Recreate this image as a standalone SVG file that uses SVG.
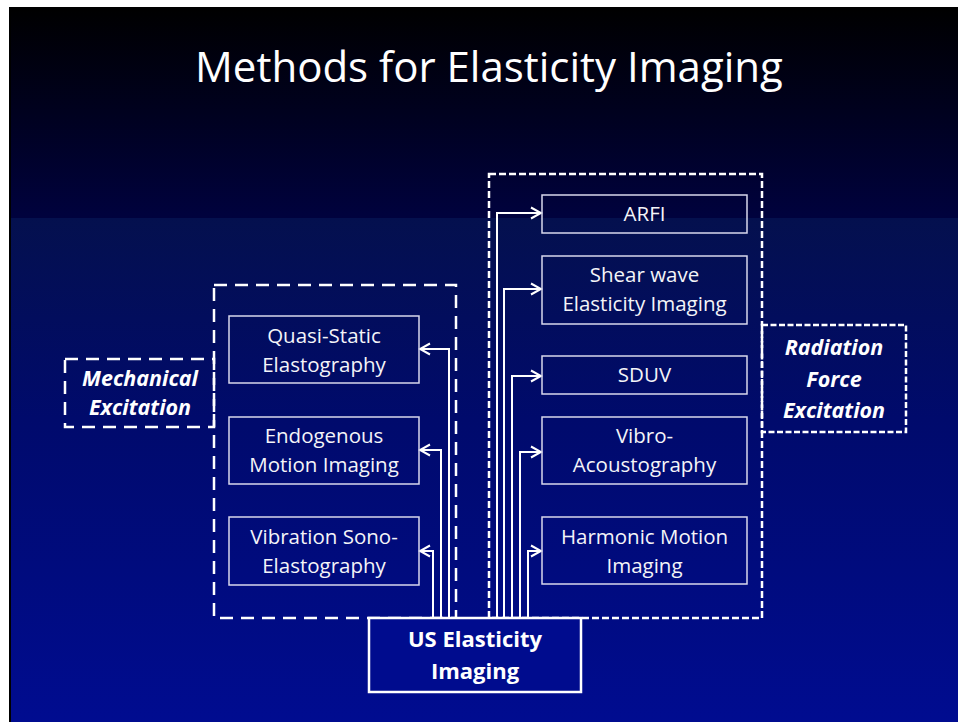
<svg xmlns="http://www.w3.org/2000/svg" width="958" height="722" viewBox="0 0 958 722">
  <defs>
    <linearGradient id="bgTop" x1="0" y1="0" x2="0" y2="1">
      <stop offset="0" stop-color="#000000"/>
      <stop offset="1" stop-color="#00023e"/>
    </linearGradient>
    <linearGradient id="bgBot" x1="0" y1="0" x2="0" y2="1">
      <stop offset="0" stop-color="#04104e"/>
      <stop offset="0.4" stop-color="#000a6c"/>
      <stop offset="1" stop-color="#000c90"/>
    </linearGradient>
    <marker id="arr" viewBox="-12 -8 14 16" refX="0" refY="0" markerWidth="14" markerHeight="16" markerUnits="userSpaceOnUse" orient="auto">
      <path d="M-10,-5.5 L0,0 L-10,5.5" fill="none" stroke="#ffffff" stroke-width="2"/>
    </marker>
  </defs>
  <style>
    .box { fill: none; stroke: #d8d8ec; stroke-width: 1.5; }
    .t { font-family: "Open Sans", "Liberation Sans", sans-serif; font-size: 20.5px; fill: #f4f4f8; text-anchor: middle; }
    .bi { font-family: "Open Sans", "Liberation Sans", sans-serif; font-size: 21.5px; font-weight: bold; font-style: italic; fill: #ffffff; text-anchor: middle; }
    .conn { fill: none; stroke: #ffffff; stroke-width: 2; marker-end: url(#arr); }
    .longdash { fill: none; stroke: #ffffff; stroke-width: 2.5; stroke-dasharray: 13 8; }
    .shortdash { fill: none; stroke: #ffffff; stroke-width: 2.5; stroke-dasharray: 7 3; }
    .dotdash { fill: none; stroke: #ffffff; stroke-width: 2.5; stroke-dasharray: 6 2.5; }
  </style>

  <!-- background -->
  <rect x="0" y="0" width="958" height="722" fill="#ffffff"/>
  <rect x="9" y="7" width="949" height="715" fill="#000000"/>
  <rect x="11" y="8" width="947" height="210" fill="url(#bgTop)"/>
  <rect x="11" y="218" width="947" height="504" fill="url(#bgBot)"/>

  <!-- title -->
  <text x="489" y="82" font-family="'Open Sans', 'Liberation Sans', sans-serif" font-size="42" fill="#ffffff" text-anchor="middle">Methods for Elasticity Imaging</text>

  <!-- groups -->
  <g id="mechanical-group">
    <rect class="longdash" x="214" y="285" width="242" height="333"/>
  </g>
  <g id="radiation-group">
    <rect class="shortdash" x="489" y="174" width="273" height="444"/>
  </g>
  <g id="mechanical-excitation">
    <rect class="longdash" x="65" y="359" width="149" height="68"/>
    <text class="bi" x="140" y="386">Mechanical</text>
    <text class="bi" x="140" y="415">Excitation</text>
  </g>
  <g id="radiation-force-excitation">
    <rect class="dotdash" x="762" y="325" width="144" height="107"/>
    <text class="bi" x="834" y="355">Radiation</text>
    <text class="bi" x="834" y="387">Force</text>
    <text class="bi" x="834" y="418">Excitation</text>
  </g>

  <!-- connectors -->
  <g id="connectors">
    <path class="conn" d="M449,618 V349 H420"/>
    <path class="conn" d="M441,618 V450 H420"/>
    <path class="conn" d="M433,618 V551 H420"/>
    <path class="conn" d="M497,618 V213 H541"/>
    <path class="conn" d="M504,618 V289 H541"/>
    <path class="conn" d="M512,618 V376 H541"/>
    <path class="conn" d="M520,618 V452 H541"/>
    <path class="conn" d="M528,618 V551 H541"/>
  </g>

  <!-- left column -->
  <g id="quasi-static">
    <rect class="box" x="229" y="316" width="190" height="67"/>
    <text class="t" x="324" y="343">Quasi-Static</text>
    <text class="t" x="324" y="372">Elastography</text>
  </g>
  <g id="endogenous">
    <rect class="box" x="229" y="417" width="190" height="67"/>
    <text class="t" x="324" y="443">Endogenous</text>
    <text class="t" x="324" y="472">Motion Imaging</text>
  </g>
  <g id="vibration-sono">
    <rect class="box" x="229" y="517" width="190" height="68"/>
    <text class="t" x="324" y="544">Vibration Sono-</text>
    <text class="t" x="324" y="573">Elastography</text>
  </g>

  <!-- right column -->
  <g id="arfi">
    <rect class="box" x="542" y="195" width="205" height="38"/>
    <text class="t" x="644.5" y="221">ARFI</text>
  </g>
  <g id="shear-wave">
    <rect class="box" x="542" y="256" width="205" height="68"/>
    <text class="t" x="644.5" y="282">Shear wave</text>
    <text class="t" x="644.5" y="311">Elasticity Imaging</text>
  </g>
  <g id="sduv">
    <rect class="box" x="542" y="356" width="205" height="38"/>
    <text class="t" x="644.5" y="382">SDUV</text>
  </g>
  <g id="vibro">
    <rect class="box" x="542" y="417" width="205" height="67"/>
    <text class="t" x="644.5" y="443">Vibro-</text>
    <text class="t" x="644.5" y="472">Acoustography</text>
  </g>
  <g id="harmonic">
    <rect class="box" x="542" y="517" width="205" height="67"/>
    <text class="t" x="644.5" y="544">Harmonic Motion</text>
    <text class="t" x="644.5" y="573">Imaging</text>
  </g>

  <!-- root -->
  <g id="us-elasticity">
    <rect x="369" y="618" width="212" height="74" fill="#000c8e" stroke="#ffffff" stroke-width="2.5"/>
    <text x="475" y="647" font-family="'Open Sans', 'Liberation Sans', sans-serif" font-size="22" font-weight="bold" fill="#ffffff" text-anchor="middle">US Elasticity</text>
    <text x="475" y="679" font-family="'Open Sans', 'Liberation Sans', sans-serif" font-size="22" font-weight="bold" fill="#ffffff" text-anchor="middle">Imaging</text>
  </g>
</svg>
